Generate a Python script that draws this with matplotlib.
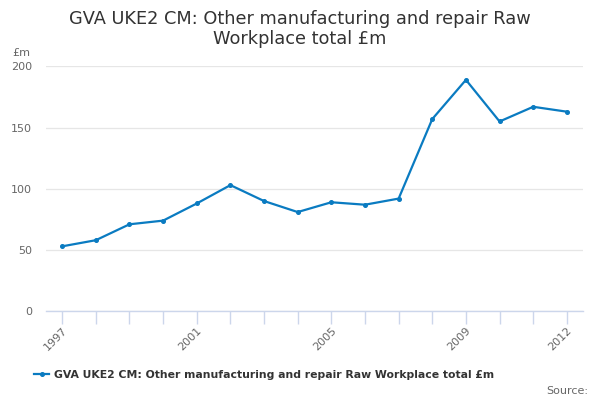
import matplotlib.pyplot as plt
import numpy as np

years = list(range(1997, 2013))
values = [53, 58, 71, 74, 88, 103, 90, 81, 89, 87, 92, 157, 189, 155, 167, 163]
label_years = [1997, 2001, 2005, 2009, 2012]
series_name = "GVA UKE2 CM: Other manufacturing and repair Raw Workplace total £m"
title = "GVA UKE2 CM: Other manufacturing and repair Raw\nWorkplace total £m"

line_color = "#0a7bc1"
axis_color = "#ccd6eb"
grid_color = "#e6e6e6"

fig = plt.figure(figsize=(6, 4), dpi=100)
ax = fig.add_axes([0.0767, 0.222, 0.895, 0.612])

ax.plot(years, values, color=line_color, lw=1.6, marker="o", ms=2.6,
        label=series_name)

ax.set_xlim(1996.52, 2012.48)
ax.set_ylim(0, 200)
ax.set_yticks([0, 50, 100, 150, 200])
ax.yaxis.grid(True, color=grid_color, lw=0.9)
ax.set_axisbelow(True)

for s in ["top", "right", "left"]:
    ax.spines[s].set_visible(False)
ax.spines["bottom"].set_color(axis_color)
ax.spines["bottom"].set_linewidth(1)

ax.set_xticks(years, minor=True)
ax.set_xticks(label_years)
ax.set_xticklabels([str(y) for y in label_years], rotation=45, ha="right",
                   rotation_mode="anchor", fontsize=8, color="#666666")
ax.tick_params(axis="x", which="both", length=9, color=axis_color, width=1,
               pad=1)
ax.tick_params(axis="y", length=0, labelsize=8, labelcolor="#666666", pad=10)

fig.text(0.02, 0.86, "£m", fontsize=8, color="#666666")
fig.suptitle(title, fontsize=12.8, color="#333333", y=0.975, linespacing=1.15)

leg = fig.legend(loc="lower center", bbox_to_anchor=(0.44, 0.025), frameon=False,
                 prop={"weight": "bold", "size": 7.8}, handlelength=1.4,
                 handletextpad=0.4, labelcolor="#333333")

fig.text(0.98, 0.015, "Source:", fontsize=8, color="#666666", ha="right")

fig.savefig("out.png", dpi=100)
